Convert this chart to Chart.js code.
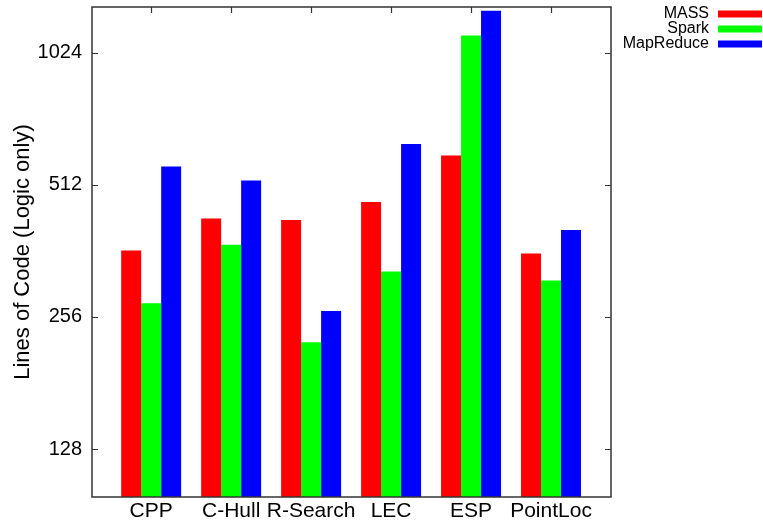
<!DOCTYPE html>
<html>
<head>
<meta charset="utf-8">
<script src="https://cdn.jsdelivr.net/npm/chart.js@4"></script>
<style>
  body { margin: 0; background: #fff; }
  #wrap { width: 763px; height: 522px; }
</style>
</head>
<body>
<div id="wrap"><canvas id="locChart" width="763" height="522"></canvas></div>
<script>
// values (log2 axis)
var categories = ['CPP', 'C-Hull', 'R-Search', 'LEC', 'ESP', 'PointLoc'];
var massLines = [363, 429, 426, 468, 597, 357];
var sparkLines = [275, 374, 224, 325, 1121, 310];
var mapReduceLines = [564, 524, 264, 634, 1277, 404];
var yTicks = [128, 256, 512, 1024];

var font = "'Liberation Sans', Arial, sans-serif";

function toPoints(arr) {
  return arr.map(function (v, i) { return { x: i, y: v }; });
}

// gnuplot style: frame, inward ticks on all four sides, key on the right
var framePlugin = {
  id: 'frame',
  beforeDatasetsDraw: function (chart) {
    var c = chart.ctx, a = chart.chartArea;
    var xs = chart.scales.x, ys = chart.scales.y;
    c.save();
    c.strokeStyle = '#333';
    c.lineWidth = 1.2;
    c.beginPath();
    xs.ticks.forEach(function (t) {
      var px = Math.round(xs.getPixelForValue(t.value)) + 0.5;
      c.moveTo(px, a.top); c.lineTo(px, a.top + 6);
      c.moveTo(px, a.bottom); c.lineTo(px, a.bottom - 6);
    });
    ys.ticks.forEach(function (t) {
      var py = Math.round(ys.getPixelForValue(t.value)) + 0.5;
      c.moveTo(a.left, py); c.lineTo(a.left + 6, py);
      c.moveTo(a.right, py); c.lineTo(a.right - 6, py);
    });
    c.stroke();
    c.restore();
  },
  afterDatasetsDraw: function (chart) {
    var c = chart.ctx, a = chart.chartArea;
    c.save();
    c.strokeStyle = '#333';
    c.lineWidth = 1.5;
    c.strokeRect(a.left, a.top, a.right - a.left, a.bottom - a.top);
    // key
    c.font = '16px ' + font;
    c.textAlign = 'right';
    c.textBaseline = 'middle';
    chart.data.datasets.forEach(function (ds, i) {
      var cy = 14 + i * 15;
      c.fillStyle = '#000';
      c.fillText(ds.label, 709, cy);
      c.fillStyle = ds.backgroundColor;
      c.fillRect(718, cy - 3.5, 44, 7);
    });
    c.restore();
  }
};

var ctx = document.getElementById('locChart').getContext('2d');
var locChart = new Chart(ctx, {
  type: 'bar',
  data: {
    datasets: [{
      label: 'MASS',
      data: toPoints(massLines),
      backgroundColor: '#ff0000'
    }, {
      label: 'Spark',
      data: toPoints(sparkLines),
      backgroundColor: '#00ff00'
    }, {
      label: 'MapReduce',
      data: toPoints(mapReduceLines),
      backgroundColor: '#0000ff'
    }]
  },
  options: {
    responsive: false,
    animation: false,
    categoryPercentage: 0.75,
    barPercentage: 1.0,
    layout: { padding: { top: 7, right: 152, left: 0, bottom: 0 } },
    plugins: {
      legend: { display: false },
      tooltip: { enabled: false }
    },
    scales: {
      x: {
        type: 'linear',
        min: -0.74,
        max: 5.75,
        offset: false,
        grid: { display: false, drawTicks: false },
        border: { display: false },
        afterBuildTicks: function (axis) {
          axis.ticks = categories.map(function (c, i) { return { value: i }; });
        },
        afterFit: function (axis) {
          axis.height = 25;
          axis.paddingLeft = 0;
          axis.paddingRight = 0;
        },
        ticks: {
          padding: 2,
          maxRotation: 0,
          minRotation: 0,
          autoSkip: false,
          color: '#000',
          font: { family: font, size: 21 },
          callback: function (value) { return categories[value]; }
        }
      },
      y: {
        type: 'logarithmic',
        min: 99.5,
        max: 1302,
        grid: { display: false, drawTicks: false },
        border: { display: false },
        afterBuildTicks: function (axis) {
          axis.ticks = yTicks.map(function (v) { return { value: v }; });
        },
        afterFit: function (axis) {
          axis.width = 92;
          axis.paddingTop = 0;
          axis.paddingBottom = 0;
        },
        ticks: {
          padding: 10,
          color: '#000',
          font: { family: font, size: 20 },
          callback: function (value) { return String(value); }
        },
        title: {
          display: true,
          text: 'Lines of Code (Logic only)',
          color: '#000',
          padding: { top: 10, bottom: 0 },
          font: { family: font, size: 22 }
        }
      }
    }
  },
  plugins: [framePlugin]
});
</script>
</body>
</html>
